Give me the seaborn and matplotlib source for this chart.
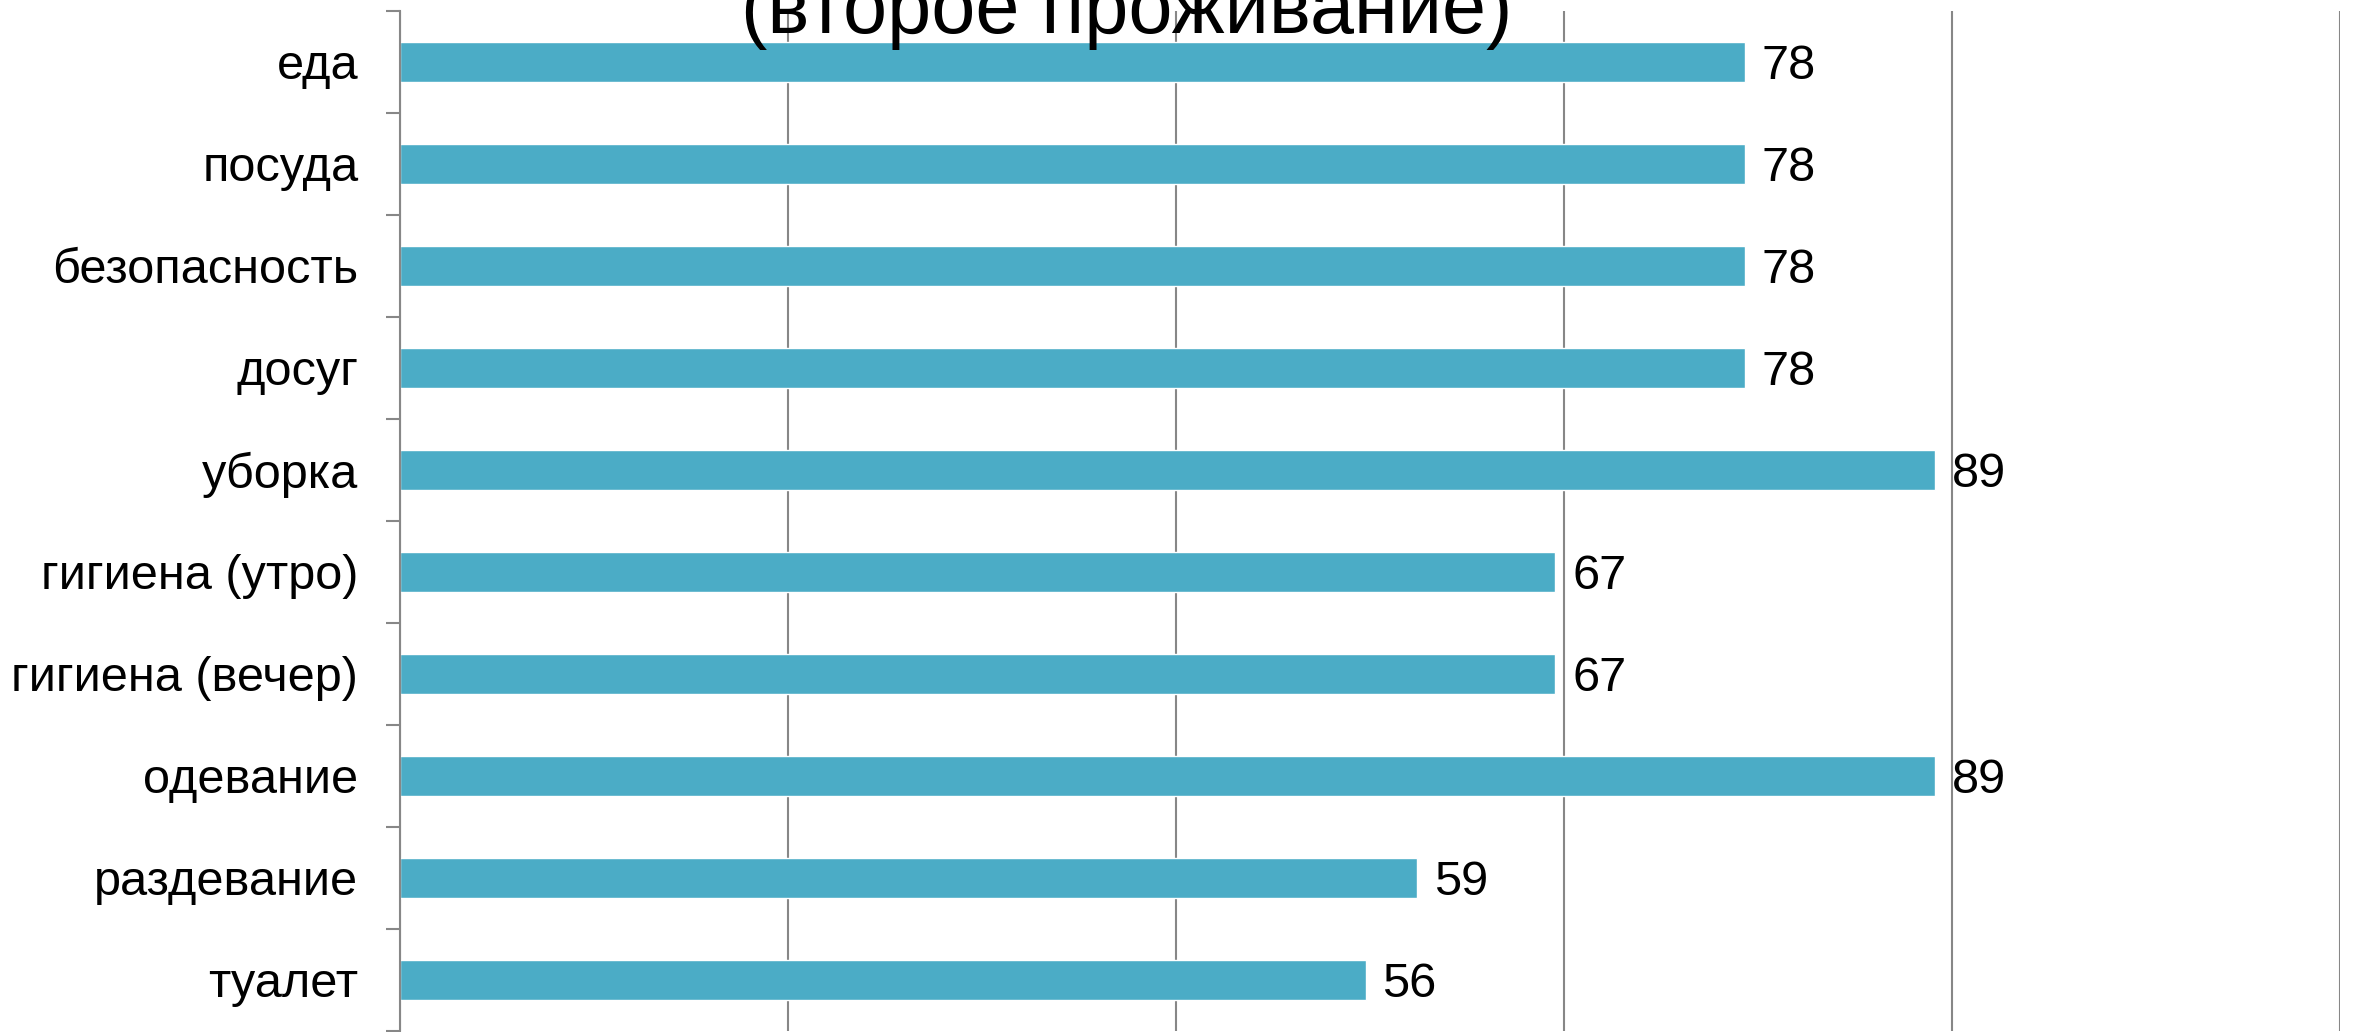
import matplotlib
matplotlib.use("Agg")
import matplotlib.pyplot as plt
import seaborn as sns
import numpy as np
import pandas as pd

# data
categories = ['еда', 'посуда', 'безопасность', 'досуг', 'уборка',
              'гигиена (утро)', 'гигиена (вечер)', 'одевание', 'раздевание', 'туалет']
values = [78, 78, 78, 78, 89, 67, 67, 89, 59, 56]
title = '(второе проживание)'

df = pd.DataFrame({'category': categories, 'value': values})

sns.set_theme(style='white')
plt.rcParams['font.family'] = ['Liberation Sans', 'DejaVu Sans']

fig = plt.figure(figsize=(23.57, 10.32), dpi=100)
ax = fig.add_axes([400 / 2357, 1 - 1031 / 1032, 1940 / 2357, 1020 / 1032])

sns.barplot(data=df, y='category', x='value', orient='h', color='#4BACC6',
            saturation=1, width=0.4, ax=ax)

grid_color = '#878787'
ax.set_xlim(0, 112.5)
ax.set_xticks(np.arange(0, 112.6, 22.5))
ax.set_xticklabels([])
ax.tick_params(axis='x', length=0)
ax.xaxis.grid(True, color=grid_color, linewidth=1.5)
ax.set_axisbelow(True)
ax.set_ylim(len(categories) - 0.5, -0.5)

# category ticks sit between the bars
ax.set_yticks(np.arange(len(categories)))
ax.set_yticklabels(categories, fontsize=35)
ax.set_yticks(np.arange(len(categories) + 1) - 0.5, minor=True)
ax.tick_params(axis='y', which='major', length=0, pad=30, labelcolor='black')
ax.tick_params(axis='y', which='minor', left=True, length=10, width=1.5,
               color=grid_color, direction='out')

for side in ['top', 'right', 'bottom']:
    ax.spines[side].set_visible(False)
ax.spines['left'].set_color(grid_color)
ax.spines['left'].set_linewidth(1.5)

ax.set_xlabel('')
ax.set_ylabel('')

for i, v in enumerate(values):
    ax.annotate(str(v), xy=(v, i), xytext=(12, 0), textcoords='offset points',
                va='center_baseline', ha='left', fontsize=35, color='black')

fig.text(741 / 2357, 1 - 33 / 1032, title, fontsize=57, ha='left',
         va='baseline', color='black')

fig.savefig('out.png', dpi=100)
